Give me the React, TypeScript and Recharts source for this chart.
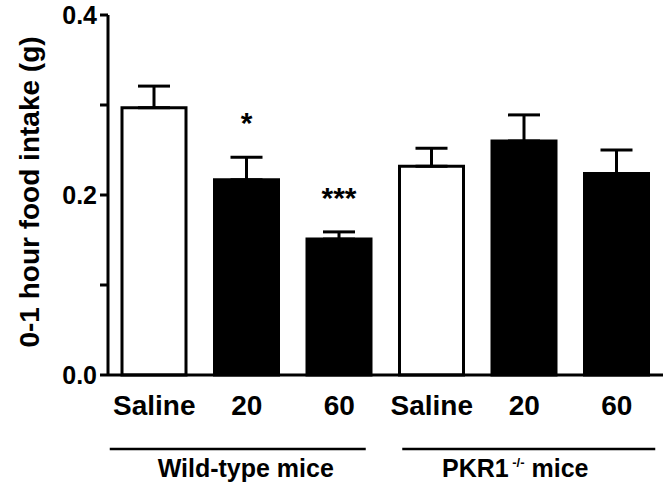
import React from "react";
import { Bar, BarChart, Cell, ErrorBar, LabelList, XAxis, YAxis } from "recharts";

const doses = ["Saline", "20", "60", "Saline", "20", "60"];
const intake = [0.297, 0.217, 0.151, 0.232, 0.26, 0.224];
const sem = [0.024, 0.025, 0.008, 0.02, 0.029, 0.026];
const significance = ["", "*", "***", "", "", ""];
const barFills = ["#ffffff", "#000000", "#000000", "#ffffff", "#000000", "#000000"];
const cohorts = ["Wild-type mice", "PKR1"];
const yTicks = [0, 0.1, 0.2, 0.3, 0.4];

const FONT = "'Liberation Sans', Arial, sans-serif";

// group underline extents, relative to the middle tick of each cohort
const lineSpan = [
  [-137, 119],
  [-122, 131],
];
const labelShift = [-1, -9];

const data = doses.map((dose, i) => ({
  key: `${i}`,
  dose,
  intake: intake[i],
  err: [0, sem[i]],
  sig: significance[i],
}));

function DoseTick(props: any) {
  const { x, y, payload } = props;
  const i = Number(payload.value);
  const cohort = Math.floor(i / 3);
  const isMiddle = i % 3 === 1;
  return (
    <g>
      <text
        x={x}
        y={y + 40}
        textAnchor="middle"
        fontFamily={FONT}
        fontWeight="bold"
        fontSize={28}
        fill="#000"
      >
        {doses[i]}
      </text>
      {isMiddle && (
        <g>
          <line
            x1={x + lineSpan[cohort][0]}
            x2={x + lineSpan[cohort][1]}
            y1={y + 74}
            y2={y + 74}
            stroke="#000"
            strokeWidth={2.5}
          />
          <text
            x={x + labelShift[cohort]}
            y={y + 102}
            textAnchor="middle"
            fontFamily={FONT}
            fontWeight="bold"
            fontSize={25}
            fill="#000"
          >
            {cohort === 0 ? (
              cohorts[0]
            ) : (
              <>
                {cohorts[1]}
                <tspan fontSize={13} dy={-10}>{" -/-"}</tspan>
                <tspan dy={10}>{" mice"}</tspan>
              </>
            )}
          </text>
        </g>
      )}
    </g>
  );
}

function SigLabel(props: any) {
  const { x, y, width, height, value, index } = props;
  if (!value) return null;
  const pxPerUnit = height / intake[index];
  const errTop = y - sem[index] * pxPerUnit;
  return (
    <text
      x={x + width / 2}
      y={errTop - 24}
      textAnchor="middle"
      fontFamily={FONT}
      fontWeight="bold"
      fontSize={30}
      fill="#000"
    >
      {value}
    </text>
  );
}

export default function App() {
  return (
    <div style={{ position: "absolute", left: 0, top: 0, background: "#fff" }}>
      <BarChart
        width={670}
        height={488}
        data={data}
        margin={{ top: 15, right: 7, left: 0, bottom: 0 }}
      >
        <XAxis
          dataKey="key"
          height={113}
          stroke="#000"
          strokeWidth={3}
          tickLine={false}
          tickSize={0}
          tickMargin={0}
          interval={0}
          tick={<DoseTick />}
        />
        <YAxis
          width={108}
          domain={[0, 0.4]}
          ticks={yTicks}
          stroke="#000"
          strokeWidth={3}
          tickSize={8}
          tickMargin={3}
          tickFormatter={(v: number) => (Math.round(v * 10) % 2 === 0 ? v.toFixed(1) : "")}
          tick={{ fill: "#000", fontFamily: FONT, fontWeight: "bold", fontSize: 25 }}
          label={{
            content: (p: any) => {
              const vb = p.viewBox;
              const cx = 29;
              const cy = vb.y + vb.height / 2 - 3;
              return (
                <text
                  x={cx}
                  y={cy}
                  transform={`rotate(-90 ${cx} ${cy})`}
                  textAnchor="middle"
                  dominantBaseline="central"
                  fontFamily={FONT}
                  fontWeight="bold"
                  fontSize={28}
                  fill="#000"
                >
                  0-1 hour food intake (g)
                </text>
              );
            },
          }}
        />
        <Bar dataKey="intake" barSize={64} stroke="#000" strokeWidth={3} isAnimationActive={false}>
          {data.map((d, i) => (
            <Cell key={d.key} fill={barFills[i]} />
          ))}
          <ErrorBar dataKey="err" direction="y" width={16} stroke="#000" strokeWidth={3} />
          <LabelList dataKey="sig" content={<SigLabel />} />
        </Bar>
      </BarChart>
    </div>
  );
}
